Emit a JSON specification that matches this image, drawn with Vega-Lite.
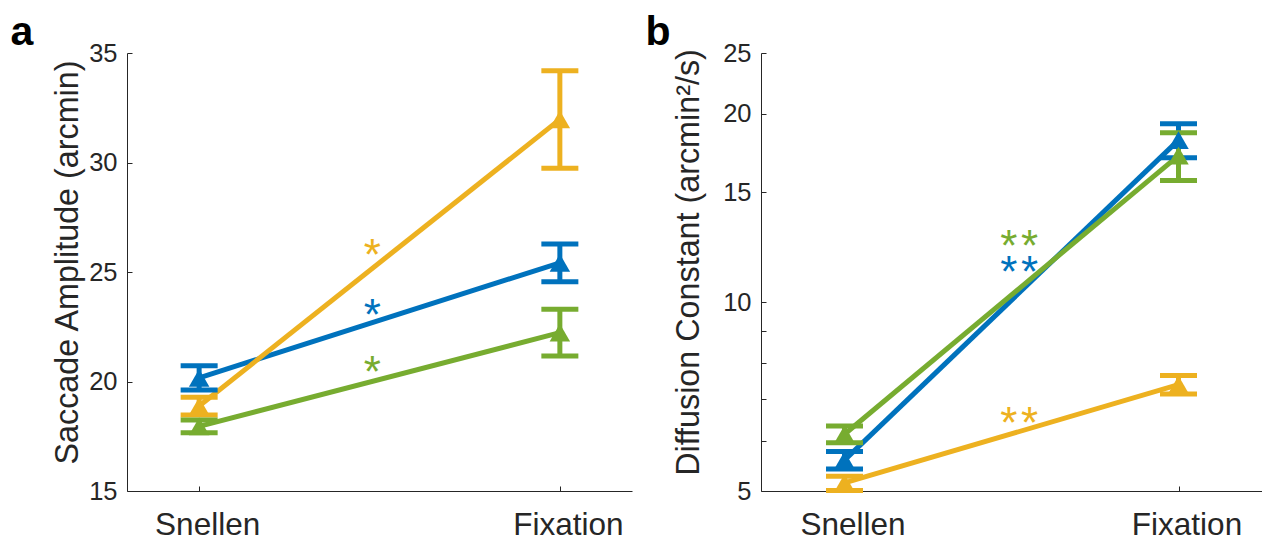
{
  "$schema": "https://vega.github.io/schema/vega-lite/v6.json",
  "background": "white",
  "padding": {"left": 10, "top": 11, "right": 0, "bottom": 0},
  "spacing": 13,
  "config": {
    "view": {"stroke": null},
    "font": "Liberation Sans",
    "axis": {
      "domainColor": "#262626", "domainWidth": 1, "tickColor": "#262626", "tickWidth": 1, "tickSize": -5,
      "labelColor": "#262626", "titleColor": "#262626", "grid": false,
      "labelFont": "Liberation Sans", "titleFont": "Liberation Sans", "titleFontWeight": "normal", "labelOverlap": false
    },
    "axisX": {"labelFontSize": 31.5, "labelPadding": 23, "labelOffset": 8},
    "axisY": {"labelFontSize": 25.5, "labelPadding": 15, "titleFontSize": 32.3}
  },
  "datasets": {
    "amp": [
      {"series": "blue", "cond": 1, "mean": 20.17, "lo": 19.61, "hi": 20.72},
      {"series": "blue", "cond": 2, "mean": 25.42, "lo": 24.56, "hi": 26.28},
      {"series": "yellow", "cond": 1, "mean": 18.88, "lo": 18.47, "hi": 19.28},
      {"series": "yellow", "cond": 2, "mean": 31.97, "lo": 29.74, "hi": 34.19},
      {"series": "green", "cond": 1, "mean": 17.95, "lo": 17.66, "hi": 18.24},
      {"series": "green", "cond": 2, "mean": 22.23, "lo": 21.16, "hi": 23.3}
    ],
    "amp_sig": [
      {"series": "yellow", "cond": 1.48, "y": 26.22, "label": "*"},
      {"series": "blue", "cond": 1.48, "y": 23.5, "label": "*"},
      {"series": "green", "cond": 1.48, "y": 20.89, "label": "*"}
    ],
    "dif": [
      {"series": "blue", "cond": 1, "mean": 5.6, "lo": 5.42, "hi": 5.78},
      {"series": "blue", "cond": 2, "mean": 18.15, "lo": 17.01, "hi": 19.28},
      {"series": "yellow", "cond": 1, "mean": 5.15, "lo": 5.01, "hi": 5.28},
      {"series": "yellow", "cond": 2, "mean": 7.39, "lo": 7.14, "hi": 7.64},
      {"series": "green", "cond": 1, "mean": 6.16, "lo": 5.97, "hi": 6.35},
      {"series": "green", "cond": 2, "mean": 17.15, "lo": 15.65, "hi": 18.65}
    ],
    "dif_sig": [
      {"series": "green", "cond": 1.523, "y": 12.75, "label": "*\u200a*"},
      {"series": "blue", "cond": 1.523, "y": 11.59, "label": "*\u200a*"},
      {"series": "yellow", "cond": 1.523, "y": 6.66, "label": "*\u200a*"}
    ]
  },
  "hconcat": [
    {
      "width": 505,
      "height": 438,
      "title": {"text": "a", "anchor": "start", "frame": "group", "dx": -116.5, "offset": -44.6, "baseline": "alphabetic", "fontSize": 41, "fontWeight": "bold", "color": "black", "font": "Liberation Sans"},
      "data": {"name": "amp"},
      "encoding": {
        "x": {"field": "cond", "type": "quantitative", "scale": {"domain": [0.8, 2.2], "nice": false, "zero": false},
              "axis": {"values": [1, 2], "labelExpr": "datum.value == 1 ? 'Snellen' : 'Fixation'", "title": null, "labelFlush": false}},
        "color": {"field": "series", "type": "nominal", "scale": {"domain": ["blue", "yellow", "green"], "range": ["#0072BD", "#EDB120", "#77AC30"]}, "legend": null}
      },
      "layer": [
        {"mark": {"type": "line", "strokeWidth": 5},
         "encoding": {"y": {"field": "mean", "type": "quantitative", "scale": {"domain": [15, 35], "nice": false, "zero": false},
           "axis": {"values": [15, 20, 25, 30, 35], "title": "Saccade Amplitude (arcmin)", "titleX": -50, "titleY": 209, "titleBaseline": "alphabetic", "titleAngle": 270}}}},
        {"mark": {"type": "rule", "strokeWidth": 5},
         "encoding": {"y": {"field": "lo", "type": "quantitative"}, "y2": {"field": "hi"}}},
        {"mark": {"type": "tick", "orient": "horizontal", "size": 37, "thickness": 5, "opacity": 1},
         "encoding": {"y": {"field": "lo", "type": "quantitative"}}},
        {"mark": {"type": "tick", "orient": "horizontal", "size": 37, "thickness": 5, "opacity": 1},
         "encoding": {"y": {"field": "hi", "type": "quantitative"}}},
        {"mark": {"type": "point", "shape": "triangle-up", "size": 420, "filled": true, "opacity": 1},
         "encoding": {"y": {"field": "mean", "type": "quantitative"}}},
        {"data": {"name": "amp_sig"},
         "mark": {"type": "text", "fontSize": 44, "dy": 12, "baseline": "middle", "align": "center", "font": "Liberation Sans"},
         "encoding": {"y": {"field": "y", "type": "quantitative"}, "text": {"field": "label"}}}
      ]
    },
    {
      "width": 501,
      "height": 438,
      "title": {"text": "b", "anchor": "start", "frame": "group", "dx": -115.5, "offset": -44.6, "baseline": "alphabetic", "fontSize": 41, "fontWeight": "bold", "color": "black", "font": "Liberation Sans"},
      "data": {"name": "dif"},
      "encoding": {
        "x": {"field": "cond", "type": "quantitative", "scale": {"domain": [0.75, 2.25], "nice": false, "zero": false},
              "axis": {"values": [1, 2], "labelExpr": "datum.value == 1 ? 'Snellen' : 'Fixation'", "title": null, "labelFlush": false}},
        "color": {"field": "series", "type": "nominal", "scale": {"domain": ["blue", "yellow", "green"], "range": ["#0072BD", "#EDB120", "#77AC30"]}, "legend": null}
      },
      "layer": [
        {"mark": {"type": "line", "strokeWidth": 5},
         "encoding": {"y": {"field": "mean", "type": "quantitative", "scale": {"type": "log", "domain": [5, 25], "nice": false, "zero": false},
           "axis": {"values": [5, 6, 7, 8, 9, 10, 15, 20, 25], "labelExpr": "datum.value % 5 == 0 ? format(datum.value, 'd') : ''", "title": "Diffusion Constant (arcmin²/s)", "titleX": -63, "titleY": 209, "titleBaseline": "alphabetic", "titleAngle": 270}}}},
        {"mark": {"type": "rule", "strokeWidth": 5},
         "encoding": {"y": {"field": "lo", "type": "quantitative"}, "y2": {"field": "hi"}}},
        {"mark": {"type": "tick", "orient": "horizontal", "size": 37, "thickness": 5, "opacity": 1},
         "encoding": {"y": {"field": "lo", "type": "quantitative"}}},
        {"mark": {"type": "tick", "orient": "horizontal", "size": 37, "thickness": 5, "opacity": 1},
         "encoding": {"y": {"field": "hi", "type": "quantitative"}}},
        {"mark": {"type": "point", "shape": "triangle-up", "size": 420, "filled": true, "opacity": 1},
         "encoding": {"y": {"field": "mean", "type": "quantitative"}}},
        {"data": {"name": "dif_sig"},
         "mark": {"type": "text", "fontSize": 44, "dy": 12, "baseline": "middle", "align": "center", "font": "Liberation Sans"},
         "encoding": {"y": {"field": "y", "type": "quantitative"}, "text": {"field": "label"}}}
      ]
    }
  ]
}
